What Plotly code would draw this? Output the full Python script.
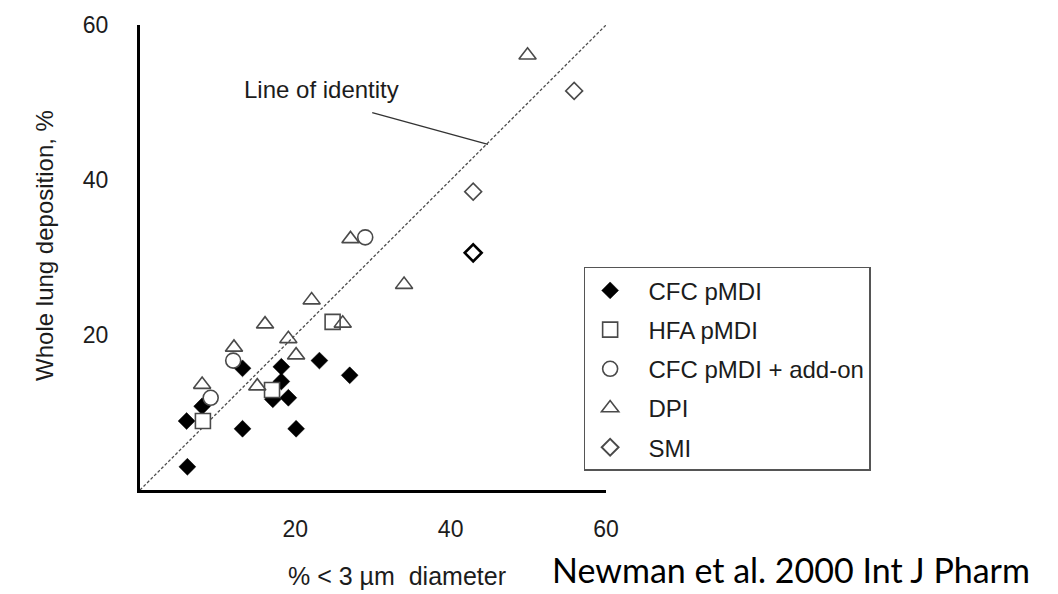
import plotly.graph_objects as go

# % of dose in particles < 3 µm vs whole lung deposition (%)
cfc_x = [6.1, 6.0, 8.0, 13.2, 13.2, 18.2, 18.2, 17.1, 19.1, 20.1, 23.1, 27.0]
cfc_y = [3.0, 8.9, 10.8, 15.7, 7.9, 15.9, 14.0, 11.7, 11.9, 7.9, 16.7, 14.8]

hfa_x = [8.1, 17.0, 24.8]
hfa_y = [8.9, 12.9, 21.7]

addon_x = [9.1, 12.0, 29.0]
addon_y = [11.9, 16.7, 32.6]

dpi_x = [8.0, 12.1, 15.1, 16.1, 19.1, 20.1, 22.1, 26.1, 27.1, 34.0, 49.9]
dpi_y = [13.6, 18.4, 13.4, 21.4, 19.5, 17.4, 24.5, 21.5, 32.4, 26.5, 56.1]

smi_x = [55.9, 42.9, 42.9]
smi_y = [51.5, 38.5, 30.6]

identity = [0, 60]
tick_vals = [20, 40, 60]

# leader from the "Line of identity" label to the dashed line
leader_x = [29.9, 37.4, 44.8]
leader_y = [48.7, 46.6, 44.6]

AX_FONT = "Liberation Sans, Arial, sans-serif"
INK = "#1c1c1c"
EDGE = "#4a4a4a"

fig = go.Figure()

fig.add_trace(go.Scatter(
    x=identity, y=identity, mode="lines",
    line=dict(color="#4d4d4d", width=1.3, dash="3px,2px"),
    showlegend=False, hoverinfo="skip"))

fig.add_trace(go.Scatter(
    x=leader_x, y=leader_y, mode="lines",
    line=dict(color="#333333", width=1.4),
    showlegend=False, hoverinfo="skip"))

NBSP = "\u00a0\u00a0"

fig.add_trace(go.Scatter(
    x=cfc_x, y=cfc_y, mode="markers", name=NBSP + "CFC pMDI", legendgroup="a",
    marker=dict(symbol="diamond", size=13, color="black",
                line=dict(color="black", width=0.5))))

fig.add_trace(go.Scatter(
    x=hfa_x, y=hfa_y, mode="markers", name=NBSP + "HFA pMDI", legendgroup="b",
    marker=dict(symbol="square", size=15, color="white",
                line=dict(color=EDGE, width=1.6))))

fig.add_trace(go.Scatter(
    x=addon_x, y=addon_y, mode="markers", name=NBSP + "CFC pMDI + add-on",
    legendgroup="c",
    marker=dict(symbol="circle", size=15, color="white",
                line=dict(color=EDGE, width=1.6))))

fig.add_trace(go.Scatter(
    x=dpi_x, y=dpi_y, mode="markers", name=NBSP + "DPI", legendgroup="d",
    marker=dict(symbol="triangle-up-open", size=15, color=EDGE,
                line=dict(color=EDGE, width=1.6))))

fig.add_trace(go.Scatter(
    x=smi_x, y=smi_y, mode="markers", name=NBSP + "SMI", legendgroup="e",
    marker=dict(symbol="diamond", size=13, color="white",
                line=dict(color=[EDGE, EDGE, "black"], width=[1.6, 1.6, 2.6]))))

fig.add_annotation(
    x=23.4, y=51.7, xref="x", yref="y", text="Line of identity",
    showarrow=False, font=dict(family=AX_FONT, size=24, color=INK),
    xanchor="center", yanchor="middle")

fig.add_annotation(
    x=-0.205, y=0.526, xref="paper", yref="paper",
    text="Whole lung deposition, %", textangle=-90, showarrow=False,
    font=dict(family=AX_FONT, size=24, color=INK),
    xanchor="center", yanchor="middle")

fig.add_annotation(
    x=0.552, y=-0.186, xref="paper", yref="paper",
    text="% &lt; 3 µm\u00a0 diameter", showarrow=False,
    font=dict(family=AX_FONT, size=25, color=INK),
    xanchor="center", yanchor="middle")

fig.add_annotation(
    x=0.879, y=-0.2198, xref="paper", yref="paper",
    text="Newman et al. 2000 Int J Pharm", showarrow=False,
    font=dict(family="Lato, Carlito, sans-serif", size=34, color="black"),
    xanchor="left", yanchor="bottom")

axis_common = dict(
    range=[0, 60], showgrid=False, zeroline=False,
    showline=True, linecolor="black", linewidth=3,
    ticks="", tickvals=tick_vals, ticktext=[str(v) for v in tick_vals],
    tickfont=dict(family=AX_FONT, size=23, color=INK),
    fixedrange=True)

fig.update_layout(
    width=1058, height=594,
    margin=dict(l=140, r=452, t=17, b=104),
    paper_bgcolor="white", plot_bgcolor="white",
    xaxis=dict(axis_common, ticklabelstandoff=16),
    yaxis=dict(axis_common, ticklabelstandoff=24),
    showlegend=True,
    legend=dict(
        x=0.952, y=0.480, xanchor="left", yanchor="top",
        bgcolor="white", bordercolor="#555555", borderwidth=1.5,
        font=dict(family=AX_FONT, size=24, color=INK),
        itemwidth=40, tracegroupgap=5, traceorder="grouped"),
)

fig.write_html("out.html")
